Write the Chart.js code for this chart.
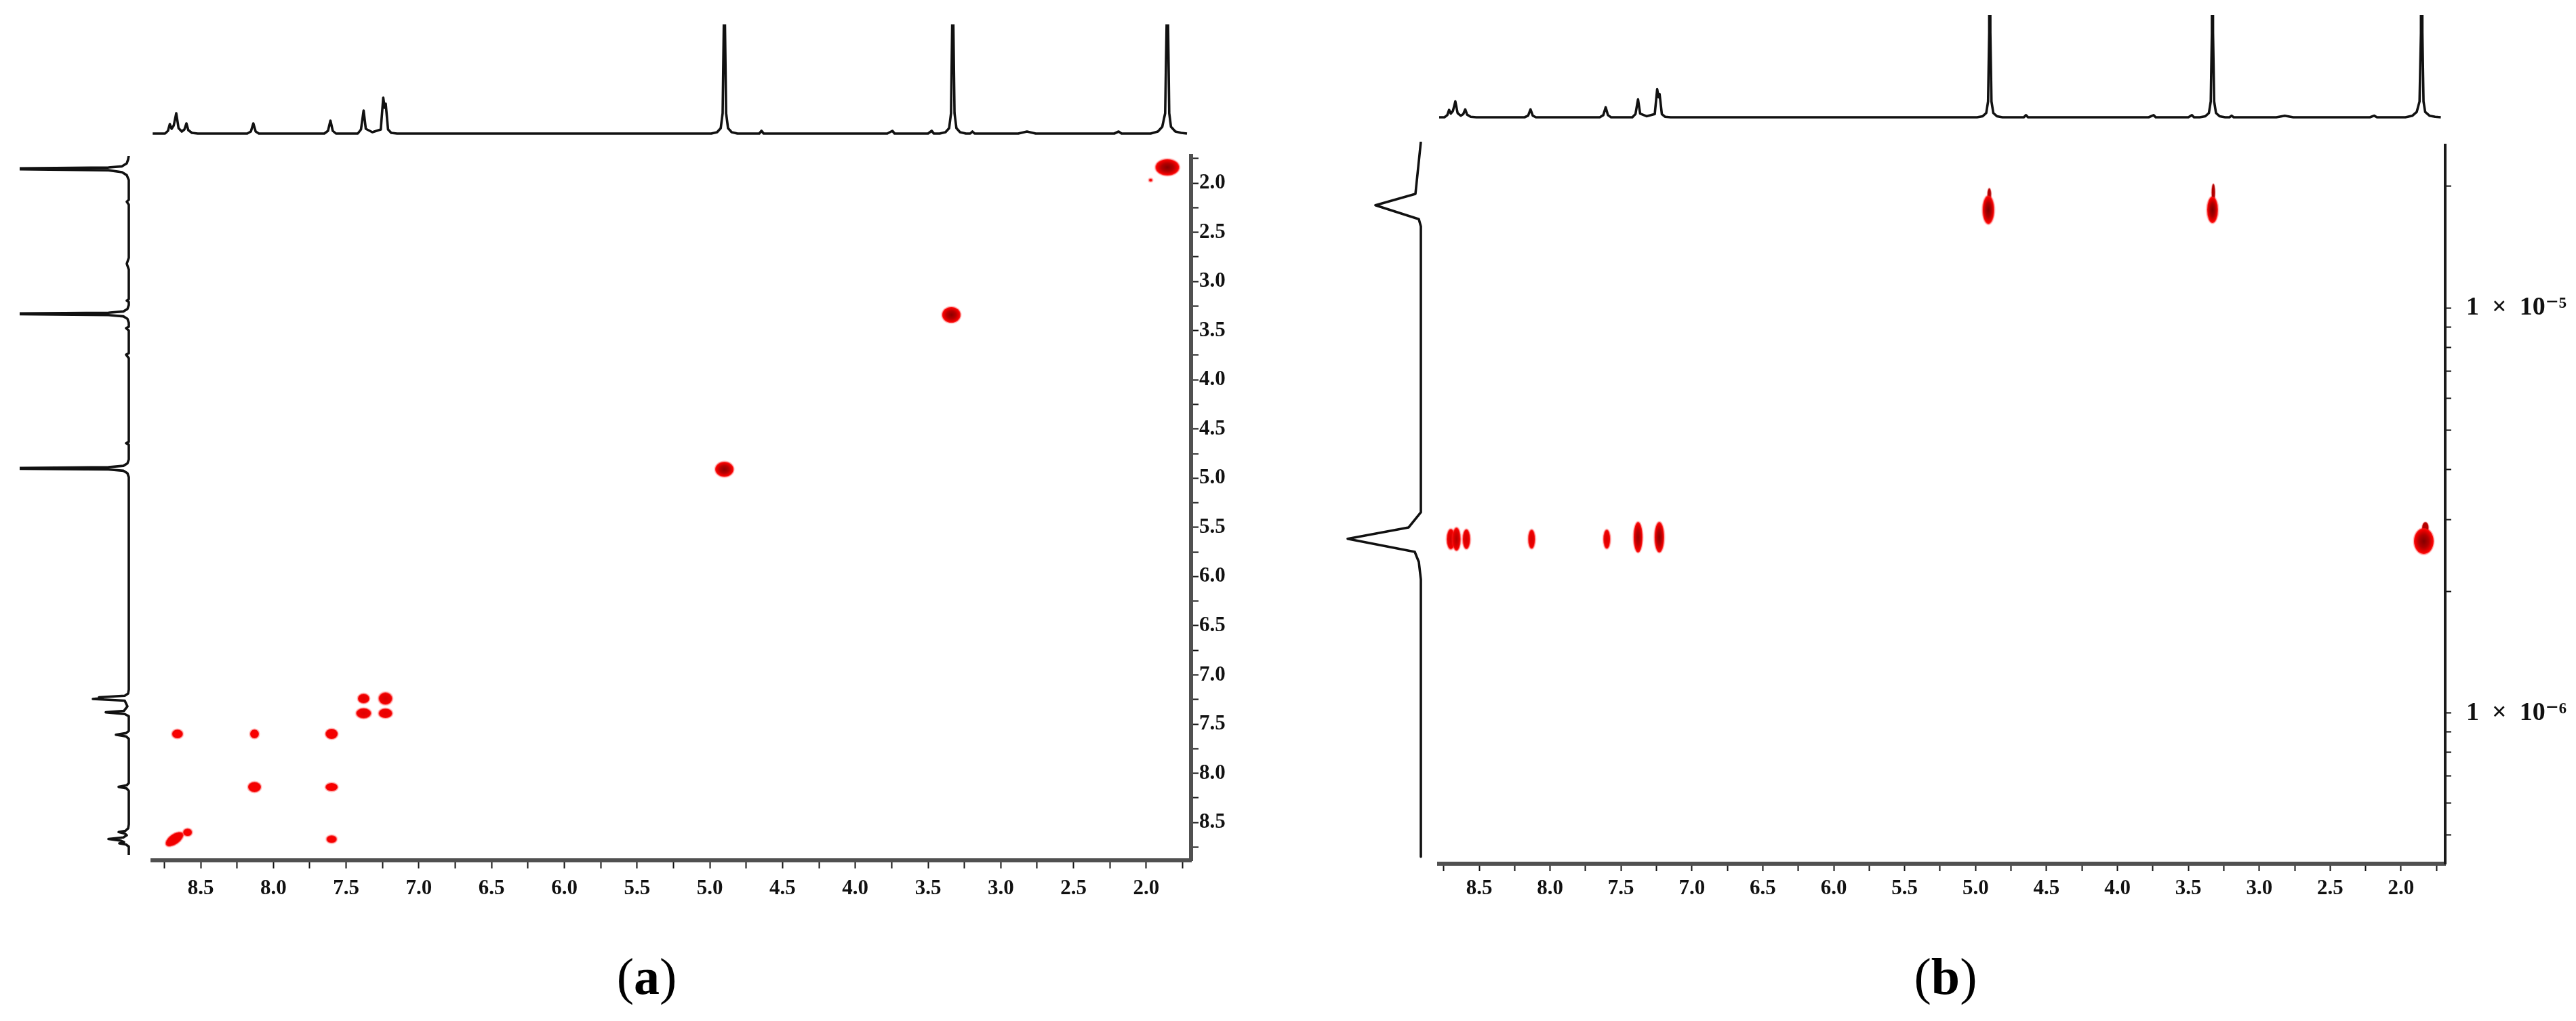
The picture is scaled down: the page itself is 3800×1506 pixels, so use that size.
<!DOCTYPE html>
<html><head><meta charset="utf-8">
<script src="https://cdn.jsdelivr.net/npm/chart.js@4.4.1/dist/chart.umd.min.js"></script>
<style>
html,body{margin:0;padding:0;background:#fff;}
#wrap{position:relative;width:3800px;height:1506px;overflow:hidden;background:#fff;}
#wrap canvas{position:absolute;}
.cap{position:absolute;font-family:"Liberation Serif","Times New Roman",serif;font-size:76px;line-height:76px;color:#000;transform:translateX(-50%);white-space:nowrap;}
</style></head><body><div id="wrap"></div>
<script>
// ---------- DATA ----------
// 1H spectrum (chemical shift, intensity) used for the projections
const specPpm = [
  8.83, 8.745, 8.725, 8.712, 8.700, 8.685, 8.668, 8.652, 8.630, 8.612, 8.598, 8.585, 8.56, 8.52,
  8.18, 8.155, 8.138, 8.122, 8.10,
  7.65, 7.625, 7.608, 7.592, 7.57,
  7.42, 7.398, 7.380, 7.365, 7.32, 7.262, 7.245, 7.235, 7.228, 7.212, 7.19, 7.15,
  5.10, 4.99, 4.95, 4.925, 4.912, 4.904, 4.900, 4.896, 4.888, 4.875, 4.85, 4.81,
  4.66, 4.645, 4.63, 3.78, 3.745, 3.73, 3.50, 3.475, 3.46,
  3.42, 3.38, 3.355, 3.342, 3.334, 3.330, 3.326, 3.318, 3.305, 3.28, 3.24,
  3.21, 3.195, 3.18, 2.88, 2.82, 2.76, 2.22, 2.19, 2.17,
  1.97, 1.92, 1.89, 1.87, 1.860, 1.855, 1.850, 1.842, 1.83, 1.80, 1.76, 1.72
];
const specInt = [
  0, 0, 4, 14, 7, 12, 30, 8, 3, 6, 15, 5, 1, 0,
  0, 3, 15, 3, 0,
  0, 4, 19, 4, 0,
  0, 6, 34, 7, 2, 6, 53, 38, 44, 6, 1, 0,
  0, 0, 2, 8, 30, 160, 1000, 160, 30, 8, 2, 0,
  0, 4, 0, 0, 4, 0, 0, 4, 0,
  0, 2, 8, 30, 160, 1000, 160, 30, 8, 2, 0,
  0, 3, 0, 0, 3, 0, 0, 3, 0,
  0, 3, 10, 30, 160, 1000, 160, 30, 10, 3, 1, 0
];
// (a) COSY cross / diagonal peaks: F2 (x) and F1 (y) in ppm
const cosyF2 = [1.855, 1.97, 3.34, 4.90, 7.23, 7.38, 7.23, 7.38, 7.60, 8.13, 8.66, 8.13, 7.60, 8.68, 8.59, 7.60];
const cosyF1 = [1.84, 1.97, 3.34, 4.91, 7.24, 7.24, 7.39, 7.39, 7.60, 7.60, 7.60, 8.14, 8.14, 8.67, 8.60, 8.67];
// (b) DOSY peaks: chemical shift and diffusion coefficient (m^2/s)
const dosyF2 = [8.70, 8.66, 8.59, 8.13, 7.60, 7.38, 7.23, 4.91, 3.33, 1.84];
const dosyD  = [2.69e-6, 2.69e-6, 2.69e-6, 2.69e-6, 2.69e-6, 2.72e-6, 2.72e-6, 1.75e-5, 1.75e-5, 2.66e-6];
// (b) DOSY diffusion projection
const projD   = [2.531e-5, 1.884e-5, 1.766e-5, 1.633e-5, 1.567e-5, 3.105e-6, 2.851e-6, 2.673e-6, 2.483e-6, 2.344e-6, 2.123e-6, 4.42e-7];
const projInt = [0, 8, 67, 3, 0, 0, 18, 108, 9, 3, 0, 0];
// tick values and labels
const ppmTicks = [8.75, 8.5, 8.25, 8, 7.75, 7.5, 7.25, 7, 6.75, 6.5, 6.25, 6, 5.75, 5.5, 5.25, 5, 4.75, 4.5, 4.25, 4, 3.75, 3.5, 3.25, 3, 2.75, 2.5, 2.25, 2, 1.75];
const ppmTickLabels = ['8.5', '8.0', '7.5', '7.0', '6.5', '6.0', '5.5', '5.0', '4.5', '4.0', '3.5', '3.0', '2.5', '2.0'];
const dTicks = [2e-5, 1e-5, 9e-6, 8e-6, 7e-6, 6e-6, 5e-6, 4e-6, 3e-6, 2e-6, 1e-6, 9e-7, 8e-7, 7e-7, 6e-7, 5e-7];
const dTickLabels = ['1  \u00d7  10\u207b\u2075', '1  \u00d7  10\u207b\u2076'];
const dLabelValues = [1e-5, 1e-6];

// ---------- STYLES (spot shapes) ----------
const cosyStyle = {
  w:    [35, 5, 27, 27, 20, 17, 20, 22, 18, 13, 16, 19, 18, 30, 13, 15],
  h:    [24, 4, 23, 22, 18, 14, 14, 15, 15, 13, 13, 15, 12, 15, 11, 11],
  core: [0.9, 0, 0.85, 0.85, 0.3, 0.2, 0.2, 0.25, 0.1, 0.05, 0.05, 0.1, 0.05, 0.15, 0.05, 0.05],
  rot:  [0, 0, 0, 0, 0, 0, 0, 0, 0, 0, 0, 0, 0, -35, 0, 0]
};
const dosyStyle = {
  w:    [12, 12, 11, 10, 10, 13, 14, 17, 16, 29],
  h:    [30, 34, 29, 28, 28, 45, 45, 42, 39, 38],
  core: [0.35, 0.55, 0.35, 0.3, 0.3, 0.75, 0.85, 0.97, 0.97, 0.92],
  tail: [0, 0, 0, 0, 0, 0, 0, 10, 18, 8]
};

const FONT = '"Liberation Serif","DejaVu Serif","Times New Roman",serif';
const wrap = document.getElementById('wrap');

function makeSpot(w, h, core, tail) {
  const pad = 3, t = tail || 0;
  const c = document.createElement('canvas');
  c.width = Math.ceil(w + 2 * pad);
  c.height = Math.ceil(h + 2 * t + 2 * pad);
  const g = c.getContext('2d');
  const cx = c.width / 2, cy = c.height / 2;
  const rc = Math.round(255 - core * 135);
  g.fillStyle = 'rgba(255,40,40,0.35)';
  g.beginPath(); g.ellipse(cx, cy, w / 2 + 1.5, h / 2 + 1.5, 0, 0, Math.PI * 2); g.fill();
  if (t) {
    g.fillStyle = 'rgba(255,40,40,0.35)';
    g.beginPath(); g.ellipse(cx + w * 0.08, cy - h / 2 - t / 2 + 3, Math.max(3, w * 0.2), t / 2 + 5, 0, 0, Math.PI * 2); g.fill();
    g.fillStyle = 'rgb(' + Math.round(255 - core * 80) + ',0,0)';
    g.beginPath(); g.ellipse(cx + w * 0.08, cy - h / 2 - t / 2 + 3, Math.max(2.2, w * 0.16), t / 2 + 4, 0, 0, Math.PI * 2); g.fill();
  }
  g.save();
  g.translate(cx, cy);
  g.scale(w / 2, h / 2);
  const grad = g.createRadialGradient(0, 0, 0, 0, 0, 1);
  grad.addColorStop(0, 'rgb(' + rc + ',0,0)');
  grad.addColorStop(0.5, 'rgb(' + Math.round(255 - core * 85) + ',0,0)');
  grad.addColorStop(0.85, 'rgb(240,0,0)');
  grad.addColorStop(1, 'rgb(255,20,20)');
  g.fillStyle = grad;
  g.beginPath(); g.arc(0, 0, 1, 0, Math.PI * 2); g.fill();
  g.restore();
  return c;
}
const cosySpots = cosyF2.map((_, i) => makeSpot(cosyStyle.w[i], cosyStyle.h[i], cosyStyle.core[i], 0));
const dosySpots = dosyF2.map((_, i) => makeSpot(dosyStyle.w[i], dosyStyle.h[i], dosyStyle.core[i], dosyStyle.tail[i]));

function place(l, t, r, b, pad, extraR, extraB, config) {
  const cv = document.createElement('canvas');
  const W = (r - l) + pad.l + pad.r + extraR;
  const H = (b - t) + pad.t + pad.b + extraB;
  cv.width = W; cv.height = H;
  cv.style.left = (l - pad.l) + 'px'; cv.style.top = (t - pad.t) + 'px';
  cv.style.width = W + 'px'; cv.style.height = H + 'px';
  wrap.appendChild(cv);
  const o = config.options || (config.options = {});
  o.layout = { padding: { left: pad.l, top: pad.t, right: pad.r, bottom: pad.b } };
  o.responsive = false; o.animation = false; o.devicePixelRatio = 1; o.events = [];
  o.plugins = { legend: { display: false }, tooltip: { enabled: false }, title: { display: false } };
  return new Chart(cv.getContext('2d'), config);
}
const NOPAD = { l: 0, t: 0, r: 0, b: 0 };

function ppmLabel(v) {
  const s = ppmTickLabels.find(lbl => Math.abs(parseFloat(lbl) - v) < 1e-6);
  return s === undefined ? '' : s;
}
function dLabel(v) {
  const i = dLabelValues.findIndex(x => Math.abs(x - v) / x < 1e-6);
  return i < 0 ? '' : dTickLabels[i];
}
function ppmAxis(pos, min, max, tickLen, padding, borderW, borderC, size) {
  return {
    type: 'linear', position: pos, min: min, max: max, reverse: true,
    afterBuildTicks: s => { s.ticks = ppmTicks.map(v => ({ value: v })); },
    afterFit: s => { if (pos === 'bottom') s.height = size; else s.width = size; },
    grid: { display: true, drawOnChartArea: false, drawTicks: true, tickLength: tickLen, tickWidth: 2, tickColor: '#111' },
    border: { display: true, width: borderW, color: borderC },
    ticks: { autoSkip: false, maxRotation: 0, minRotation: 0, padding: padding, color: '#111',
             font: { family: FONT, size: 31, weight: 'bold' }, callback: v => ppmLabel(v) }
  };
}
const hidden = (extra) => Object.assign({ display: false, grid: { display: false }, border: { display: false } }, extra);
function specLine(data) {
  return { data: data, borderColor: '#111', borderWidth: 3.6, pointRadius: 0, tension: 0, fill: false, borderJoinStyle: 'round' };
}

// ---------- PANEL (a) : COSY ----------
const aX = [1.692, 8.831], aY = [1.7243, 8.885];
place(225, 230, 1757, 1269, { l: 40, t: 40, r: 10, b: 10 }, 70, 80, {
  type: 'scatter',
  data: { datasets: [{ data: cosyF2.map((x, i) => ({ x: x, y: cosyF1[i] })),
    pointStyle: c => cosySpots[c.dataIndex], pointRotation: c => cosyStyle.rot[c.dataIndex] || 0, pointRadius: 5 }] },
  options: { scales: {
    x: ppmAxis('bottom', aX[0], aX[1], 12, 11, 6, '#505050', 80),
    y: ppmAxis('right', aY[0], aY[1], 11, 1, 6, '#505050', 70)
  } }
});
place(225, 36, 1757, 205, NOPAD, 0, 0, {
  type: 'line',
  data: { datasets: [specLine(specPpm.map((p, i) => ({ x: p, y: specInt[i] })))] },
  options: { scales: { x: hidden({ type: 'linear', min: aX[0], max: aX[1], reverse: true }), y: hidden({ type: 'linear', min: -8, max: 161 }) } }
});
place(29, 230, 198, 1269, NOPAD, 0, 0, {
  type: 'line',
  data: { datasets: [specLine(specPpm.map((p, i) => ({ x: specInt[i], y: p })))] },
  options: { indexAxis: 'y', scales: { x: hidden({ type: 'linear', min: -8, max: 161, reverse: true }), y: hidden({ type: 'linear', min: aY[0], max: aY[1], reverse: true }) } }
});

// ---------- PANEL (b) : DOSY ----------
const bX = [1.6893, 8.782], bY = [4.249e-7, 2.531e-5];
place(2123, 209, 3607, 1274, { l: 40, t: 40, r: 0, b: 10 }, 193, 80, {
  type: 'scatter',
  data: { datasets: [{ data: dosyF2.map((x, i) => ({ x: x, y: dosyD[i] })),
    pointStyle: c => dosySpots[c.dataIndex], pointRadius: 5 }] },
  options: { scales: {
    x: ppmAxis('bottom', bX[0], bX[1], 11, 7, 6, '#505050', 80),
    y: {
      type: 'logarithmic', position: 'right', min: bY[0], max: bY[1],
      afterBuildTicks: s => { s.ticks = dTicks.map(v => ({ value: v })); },
      afterFit: s => { s.width = 193; },
      grid: { display: true, drawOnChartArea: false, drawTicks: true, tickLength: 9, tickWidth: 2, tickColor: '#111' },
      border: { display: true, width: 4, color: '#1a1a1a' },
      ticks: { autoSkip: false, padding: 22, color: '#111', font: { family: FONT, size: 38, weight: 'bold' }, callback: v => dLabel(v) }
    }
  } }
});
place(2123, 22, 3607, 181, NOPAD, 0, 0, {
  type: 'line',
  data: { datasets: [specLine(specPpm.map((p, i) => ({ x: p, y: specInt[i] })))] },
  options: { scales: { x: hidden({ type: 'linear', min: bX[0], max: bX[1], reverse: true }), y: hidden({ type: 'linear', min: -10.26, max: 193.6 }) } }
});
place(1980, 209, 2104, 1274, NOPAD, 0, 0, {
  type: 'line',
  data: { datasets: [specLine(projD.map((d, i) => ({ x: projInt[i], y: d })))] },
  options: { indexAxis: 'y', scales: { x: hidden({ type: 'linear', min: -8, max: 116, reverse: true }), y: hidden({ type: 'logarithmic', min: bY[0], max: bY[1] }) } }
});
</script>
<div class="cap" style="left:954px;top:1402px;">(<b>a</b>)</div>
<div class="cap" style="left:2870px;top:1402px;">(<b>b</b>)</div>
</body></html>
